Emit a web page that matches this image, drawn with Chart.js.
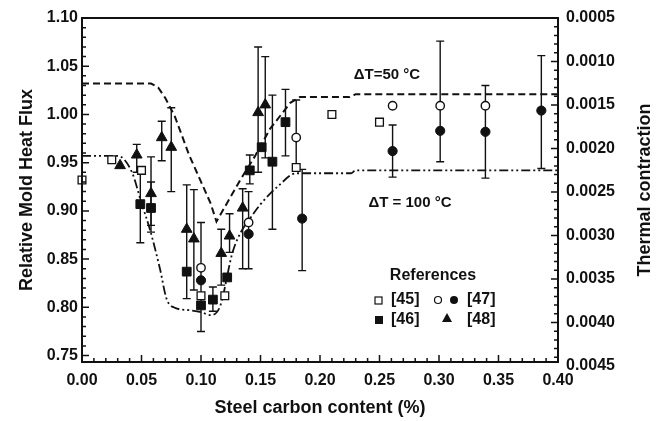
<!DOCTYPE html>
<html><head><meta charset="utf-8">
<script src="https://cdn.jsdelivr.net/npm/chart.js@4.4.1/dist/chart.umd.min.js"></script>
<style>html,body{margin:0;padding:0;background:#fff;}</style>
</head><body>
<canvas id="c" width="660" height="421"></canvas>
<script>
// ---- tick labels ----
const xTickValues = [0.00, 0.05, 0.10, 0.15, 0.20, 0.25, 0.30, 0.35, 0.40];
const leftTickValues = [0.75, 0.80, 0.85, 0.90, 0.95, 1.00, 1.05, 1.10];
const rightTickValues = [0.0005, 0.0010, 0.0015, 0.0020, 0.0025, 0.0030, 0.0035, 0.0040, 0.0045];

// ---- [45] open squares ----
const ref45X = [0.000, 0.025, 0.050, 0.100, 0.120, 0.180, 0.210, 0.250];
const ref45Y = [0.932, 0.953, 0.942, 0.812, 0.812, 0.945, 1.000, 0.992];

// ---- [46] filled squares ----
const ref46X  = [0.049, 0.058, 0.088, 0.100, 0.110, 0.122, 0.141, 0.151, 0.160, 0.171];
const ref46Y  = [0.907, 0.903, 0.837, 0.802, 0.808, 0.831, 0.942, 0.966, 0.951, 0.992];
const ref46Lo = [0.867, 0.878, null, null, 0.796, null, 0.928, null, 0.881, 0.957];
const ref46Hi = [0.945, 0.930, null, null, 0.821, null, 0.958, null, 1.020, 1.026];

// ---- [47] open circles ----
const ref47OpenX  = [0.100, 0.140, 0.180, 0.261, 0.301, 0.339];
const ref47OpenY  = [0.841, 0.888, 0.976, 1.009, 1.009, 1.009];
const ref47OpenLo = [null, null, 0.945, null, null, null];
const ref47OpenHi = [null, null, 1.015, null, null, null];

// ---- [47] filled circles ----
const ref47FillX  = [0.100, 0.140, 0.185, 0.261, 0.301, 0.339, 0.386];
const ref47FillY  = [0.828, 0.876, 0.892, 0.962, 0.983, 0.982, 1.004];
const ref47FillLo = [0.775, 0.840, 0.838, 0.935, 0.951, 0.934, 0.944];
const ref47FillHi = [0.888, 0.920, 0.943, 0.989, 1.076, 1.030, 1.061];

// ---- [48] triangles ----
const ref48X  = [0.032, 0.046, 0.058, 0.067, 0.075, 0.088, 0.094, 0.117, 0.124, 0.135, 0.148, 0.154];
const ref48Y  = [0.947, 0.958, 0.918, 0.976, 0.966, 0.881, 0.871, 0.856, 0.874, 0.903, 1.002, 1.010];
const ref48Lo = [null, 0.940, 0.885, 0.952, 0.920, 0.809, 0.818, 0.823, 0.857, 0.840, 0.940, 0.955];
const ref48Hi = [null, 0.969, 0.956, 0.993, 1.007, 0.927, 0.922, 0.881, 0.897, 0.923, 1.070, 1.060];

// ---- model curves ----
const dT50X = [0.000, 0.058, 0.064, 0.070, 0.078, 0.090, 0.108, 0.113, 0.133, 0.145, 0.158, 0.175, 0.183, 0.225, 0.230, 0.400];
const dT50Y = [1.032, 1.032, 1.028, 1.017, 0.998, 0.958, 0.908, 0.889, 0.932, 0.956, 0.985, 1.012, 1.018, 1.018, 1.021, 1.021];
const dT100X = [0.000, 0.030, 0.042, 0.050, 0.057, 0.0655, 0.071, 0.077, 0.090, 0.100, 0.108, 0.116, 0.127, 0.144, 0.166, 0.180, 0.186, 0.226, 0.230, 0.400];
const dT100Y = [0.957, 0.957, 0.940, 0.908, 0.881, 0.840, 0.809, 0.800, 0.797, 0.795, 0.792, 0.801, 0.859, 0.897, 0.927, 0.939, 0.939, 0.939, 0.942, 0.942];

const INK = '#111';
const FONT = "'Liberation Sans', Arial, sans-serif";
const pts = (xs, ys) => xs.map((x, i) => ({x: x, y: ys[i]}));

const deco = {
  id: 'deco',
  beforeDatasetsDraw(chart) {
    const ctx = chart.ctx, xs = chart.scales.x, ys = chart.scales.y;
    ctx.save();
    ctx.strokeStyle = INK; ctx.lineWidth = 1.4;
    chart.data.datasets.forEach(ds => {
      if (!ds.errLo) return;
      ds.data.forEach((p, i) => {
        const lo = ds.errLo[i], hi = ds.errHi[i];
        if (lo == null) return;
        const px = xs.getPixelForValue(p.x), pl = ys.getPixelForValue(lo), ph = ys.getPixelForValue(hi);
        ctx.beginPath();
        ctx.moveTo(px, pl); ctx.lineTo(px, ph);
        ctx.moveTo(px - 4, pl); ctx.lineTo(px + 4, pl);
        ctx.moveTo(px - 4, ph); ctx.lineTo(px + 4, ph);
        ctx.stroke();
      });
    });
    ctx.restore();
  },
  afterDraw(chart) {
    const ctx = chart.ctx, a = chart.chartArea;
    const xs = chart.scales.x, ys = chart.scales.y, y2 = chart.scales.y2;
    ctx.save();
    ctx.strokeStyle = INK; ctx.lineWidth = 2;
    ctx.strokeRect(a.left, a.top, a.right - a.left, a.bottom - a.top);
    ctx.lineWidth = 1.5;
    ctx.beginPath();
    for (let k = 0; k <= 40; k++) {
      const px = xs.getPixelForValue(k / 100), L = (k % 5 === 0) ? 7 : 4;
      ctx.moveTo(px, a.bottom); ctx.lineTo(px, a.bottom - L);
    }
    for (let k = 75; k <= 110; k++) {
      const py = ys.getPixelForValue(k / 100), L = (k % 5 === 0) ? 7 : 4;
      ctx.moveTo(a.left, py); ctx.lineTo(a.left + L, py);
    }
    for (let k = 5; k <= 44; k++) {
      const py = y2.getPixelForValue(k / 10000), L = (k % 5 === 0) ? 7 : 4;
      ctx.moveTo(a.right, py); ctx.lineTo(a.right - L, py);
    }
    ctx.stroke();

    // right axis title (reads bottom-to-top as in the reference)
    ctx.fillStyle = INK;
    ctx.textAlign = 'center'; ctx.textBaseline = 'middle';
    ctx.save();
    ctx.translate(645, (a.top + a.bottom) / 2);
    ctx.rotate(-Math.PI / 2);
    ctx.font = 'bold 18px ' + FONT;
    ctx.fillText('Thermal contraction', 0, 0);
    ctx.restore();

    // annotations
    ctx.font = 'bold 15px ' + FONT;
    ctx.fillText('\u0394T=50 \u00B0C', 387, 75);
    ctx.fillText('\u0394T = 100 \u00B0C', 410, 203);

    // legend
    ctx.font = 'bold 16px ' + FONT;
    ctx.fillText('References', 433, 276);
    ctx.textAlign = 'left';
    ctx.fillText('[45]', 391, 300);
    ctx.fillText('[47]', 467, 300);
    ctx.fillText('[46]', 391, 320);
    ctx.fillText('[48]', 467, 320);
    ctx.lineWidth = 1.2;
    ctx.fillStyle = '#fff'; ctx.fillRect(375, 297, 7, 7); ctx.strokeRect(375, 297, 7, 7);
    ctx.fillStyle = INK; ctx.fillRect(375, 316, 8, 8);
    ctx.beginPath(); ctx.arc(438, 300, 3.5, 0, Math.PI * 2); ctx.fillStyle = '#fff'; ctx.fill(); ctx.stroke();
    ctx.beginPath(); ctx.arc(454, 300, 4, 0, Math.PI * 2); ctx.fillStyle = INK; ctx.fill();
    ctx.beginPath(); ctx.moveTo(447, 313); ctx.lineTo(452, 322); ctx.lineTo(442, 322); ctx.closePath(); ctx.fill();
    ctx.restore();
  }
};

const tickFont = {family: FONT, size: 16, weight: 'bold'};
const titleFont = {family: FONT, size: 18, weight: 'bold'};

new Chart(document.getElementById('c'), {
  type: 'scatter',
  data: {
    datasets: [
      {label: '[45]', data: pts(ref45X, ref45Y), clip: false, pointStyle: 'rect', pointRadius: 5.5, backgroundColor: '#fff', borderColor: INK, borderWidth: 1.3},
      {label: '[46]', data: pts(ref46X, ref46Y), clip: false, errLo: ref46Lo, errHi: ref46Hi, pointStyle: 'rect', pointRadius: 6.2, backgroundColor: INK, borderColor: INK, borderWidth: 1},
      {label: '[47] open', data: pts(ref47OpenX, ref47OpenY), clip: false, errLo: ref47OpenLo, errHi: ref47OpenHi, pointStyle: 'circle', pointRadius: 4.2, backgroundColor: '#fff', borderColor: INK, borderWidth: 1.4},
      {label: '[47] filled', data: pts(ref47FillX, ref47FillY), clip: false, errLo: ref47FillLo, errHi: ref47FillHi, pointStyle: 'circle', pointRadius: 4.6, backgroundColor: INK, borderColor: INK, borderWidth: 1},
      {label: '[48]', data: pts(ref48X, ref48Y), clip: false, errLo: ref48Lo, errHi: ref48Hi, pointStyle: 'triangle', pointRadius: 6.2, backgroundColor: INK, borderColor: INK, borderWidth: 1},
      {label: 'dT50', data: pts(dT50X, dT50Y), showLine: true, pointRadius: 0, borderColor: INK, borderWidth: 2, borderDash: [7, 4], fill: false, tension: 0},
      {label: 'dT100', data: pts(dT100X, dT100Y), showLine: true, pointRadius: 0, borderColor: INK, borderWidth: 1.8, borderDash: [9, 3, 2, 3, 2, 3], fill: false, cubicInterpolationMode: 'monotone'}
    ]
  },
  options: {
    responsive: false, animation: false, devicePixelRatio: 1,
    layout: {padding: {top: 18, left: 0, right: 0, bottom: 0}},
    plugins: {legend: {display: false}, tooltip: {enabled: false}},
    scales: {
      x: {
        type: 'linear', position: 'bottom', min: 0, max: 0.40,
        afterBuildTicks: s => { s.ticks = xTickValues.map(v => ({value: v})); },
        afterFit: s => { s.height = 59; },
        grid: {display: false, drawTicks: false}, border: {display: false},
        ticks: {padding: 9, font: tickFont, color: INK, maxRotation: 0, autoSkip: false, callback: v => Number(v).toFixed(2)},
        title: {display: true, text: 'Steel carbon content (%)', font: titleFont, color: INK, padding: {top: 0, bottom: 2}}
      },
      y: {
        type: 'linear', position: 'left', min: 0.7433, max: 1.10,
        afterBuildTicks: s => { s.ticks = leftTickValues.map(v => ({value: v})); },
        afterFit: s => { s.width = 82; },
        grid: {display: false, drawTicks: false}, border: {display: false},
        ticks: {padding: 4, font: tickFont, color: INK, autoSkip: false, callback: v => Number(v).toFixed(2)},
        title: {display: true, text: 'Relative Mold Heat Flux', font: titleFont, color: INK, padding: {top: 16, bottom: 0}}
      },
      y2: {
        type: 'linear', position: 'right', reverse: true, min: 0.0005, max: 0.004454,
        afterBuildTicks: s => { s.ticks = rightTickValues.map(v => ({value: v})); },
        afterFit: s => { s.width = 102; },
        grid: {display: false, drawTicks: false}, border: {display: false},
        ticks: {padding: 8, font: tickFont, color: INK, autoSkip: false, callback: v => Number(v).toFixed(4)},
        title: {display: false}
      }
    }
  },
  plugins: [deco]
});
</script>
</body></html>
